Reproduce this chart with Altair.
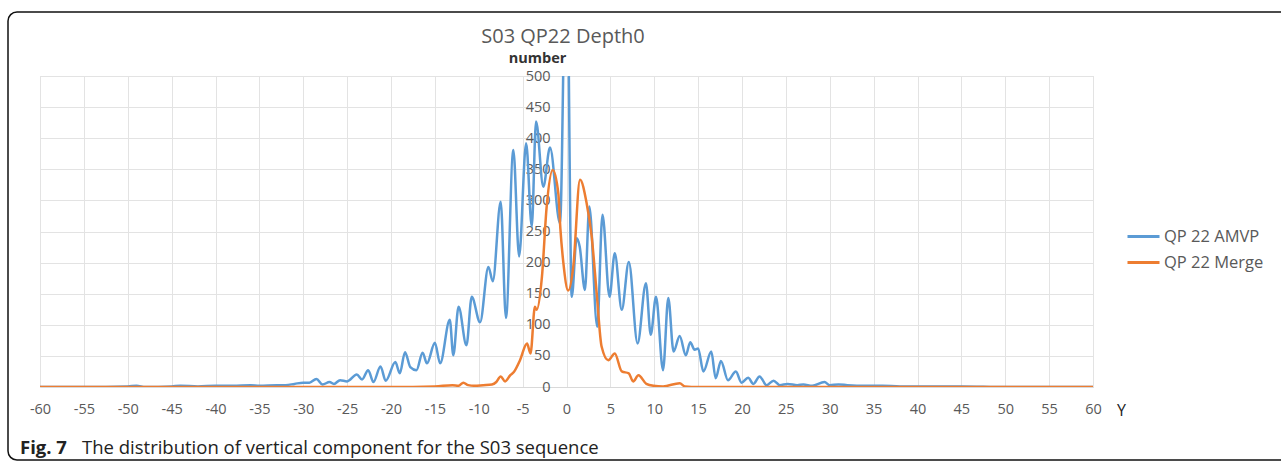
import altair as alt
import pandas as pd

# ---- data ----
amvp_x = [-60, -55, -50, -49, -48, -45, -44, -42, -40, -38, -36, -35, -33, -32, -31, -30,
          -29.3, -28.5, -27.8, -27, -26.5, -25.8, -25, -23.9, -23.3, -22.6, -22, -21.2, -20.6,
          -19.5, -19, -18.4, -17.8, -17.1, -16.4, -15.9, -15.0, -14.4, -13.3, -12.9, -12.3,
          -11.4, -10.8, -9.85, -8.9, -8.4, -7.5, -6.9, -6.06, -5.4, -4.6, -3.96, -3.47, -2.64,
          -1.88, -0.74, 0, 0.6, 1.16, 1.5, 2.1, 2.6, 3.5, 4.1, 4.9, 5.5, 6.3, 7.1, 8.1, 9.05,
          9.6, 10.2, 11.0, 11.6, 12.2, 12.9, 13.6, 14.1, 14.6, 15.0, 15.6, 16.5, 17.0, 17.6,
          18.4, 19.3, 19.95, 20.7, 21.3, 22.0, 22.8, 23.6, 24.3, 25.2, 26.3, 27, 28, 29.4, 30,
          31, 32, 34, 36, 38, 40, 45, 50, 60]
amvp_y = [0, 0, 1, 2, 0, 1, 2, 1, 2, 2, 3, 2, 3, 3, 5, 7,
          7, 13, 4, 8, 5, 11, 9, 20, 12, 27, 8, 33, 10,
          40, 22, 56, 32, 27, 55, 38, 71, 38, 108, 51, 129,
          67, 145, 104, 193, 170, 298, 111, 381, 210, 392, 258, 427, 322,
          385, 263, 760, 145, 239, 226, 156, 290, 97, 277, 145, 215, 124, 201, 70, 167,
          84, 145, 27, 143, 57, 82, 51, 72, 60, 62, 25, 57, 14, 42,
          11, 25, 7, 15, 5, 17, 3, 10, 3, 5, 3, 4, 2, 8, 3,
          4, 3, 2, 2, 1, 1, 1, 0, 0]

merge_x = [-60, -20, -15, -13, -12.3, -11.75, -11.2, -10.5, -9.5, -8.5, -8, -7.5, -7.0, -6.4,
           -6.0, -5.3, -4.5, -4.1, -3.6, -3.4, -2.8, -2.26, -1.57, -0.93, -0.7, -0.36, 0.2,
           0.77, 1.54, 2.3, 2.87, 3.44, 4.0, 4.76, 5.5, 6.3, 7.1, 7.6, 8.2, 9.1, 9.9, 11,
           12.9, 13.5, 15, 60]
merge_y = [0, 0, 1, 3, 2, 7, 3, 2, 3, 4, 8, 17, 9, 19,
           24, 43, 70, 54, 129, 124, 177, 290, 349, 311, 255, 200, 155,
           193, 333, 295, 242, 151, 65, 43, 54, 25, 22, 9, 19, 5, 2, 1,
           6, 1, 0, 0]

series_names = ["QP 22 AMVP", "QP 22 Merge"]
series_colors = ["#5B9BD5", "#ED7D31"]
x_ticks = list(range(-60, 61, 5))
y_ticks = list(range(0, 501, 50))

chart_title = "S03 QP22 Depth0"
caption_bold = "Fig. 7"
caption_rest = "The distribution of vertical component for the S03 sequence"

FONT = "Open Sans"

df_a = pd.DataFrame({"x": amvp_x, "y": amvp_y, "series": series_names[0]})
df_m = pd.DataFrame({"x": merge_x, "y": merge_y, "series": series_names[1]})

color = alt.Color("series:N",
                  scale=alt.Scale(domain=series_names, range=series_colors),
                  legend=alt.Legend(orient="none", legendX=1086, legendY=143, title=None,
                                    symbolType="stroke", symbolSize=1024,
                                    symbolStrokeWidth=2.8, labelFontSize=16.5,
                                    labelColor="#595959", labelFont=FONT,
                                    rowPadding=-3, labelOffset=3))

xenc = alt.X("x:Q", scale=alt.Scale(domain=[-60, 60], nice=False, zero=False),
             axis=alt.Axis(values=x_ticks, labelExpr="toString(datum.value)",
                           title="Y", titleAngle=0, titleX=1081,
                           titleY=23, titleAlign="center", titleBaseline="middle",
                           titleFontSize=16, titleFontWeight="normal",
                           titleColor="#222222", titleFont=FONT,
                           labelFontSize=14.5, labelColor="#595959", labelFont=FONT,
                           labelPadding=15, ticks=False, domainColor="#d9d9d9",
                           gridColor="#e3e3e3", labelFlush=False))
yenc = alt.Y("y:Q", scale=alt.Scale(domain=[0, 500], nice=False),
             axis=alt.Axis(values=y_ticks, title="number", titleAngle=0, titleAlign="center",
                           titleBaseline="middle",
                           titleX=-29.5, titleY=-18, titleFontSize=14.5, titleFontWeight="bold",
                           titleColor="#333333", titleFont=FONT,
                           labelFontSize=14.5, labelColor="#595959", labelFont=FONT,
                           labelPadding=16.5, ticks=False, domain=False,
                           gridColor="#e3e3e3", offset=-526.5))

blue = alt.Chart(df_a).mark_line(interpolate="monotone", strokeWidth=2.5, clip=True).encode(
    x=xenc, y=yenc, color=color)
orange = alt.Chart(df_m).mark_line(interpolate="monotone", strokeWidth=2.5, clip=True).encode(
    x=xenc, y=yenc, color=color)

border = alt.Chart(pd.DataFrame({"k": [0]})).mark_rect(
    fill=None, stroke="#111111", strokeWidth=1.5, cornerRadius=9).encode(
    x=alt.value(-32), x2=alt.value(1300), y=alt.value(-64), y2=alt.value(384))

title_txt = alt.Chart(pd.DataFrame({"t": [chart_title]})).mark_text(
    align="center", baseline="middle", fontSize=20, font=FONT,
    color="#595959").encode(text="t:N", x=alt.value(523), y=alt.value(-39))

cap1 = alt.Chart(pd.DataFrame({"t": [caption_bold]})).mark_text(
    align="left", baseline="middle", fontSize=18.5, fontWeight="bold", font=FONT,
    color="#222222").encode(text="t:N", x=alt.value(-20), y=alt.value(372))
cap2 = alt.Chart(pd.DataFrame({"t": [caption_rest]})).mark_text(
    align="left", baseline="middle", fontSize=18.5, font=FONT,
    color="#222222").encode(text="t:N", x=alt.value(42), y=alt.value(372))

chart = alt.layer(border, blue, orange, title_txt, cap1, cap2).properties(
    width=1053, height=311,
    padding={"left": 40, "top": 76, "right": 188, "bottom": 78},
    autosize="none",
).configure_view(stroke=None).configure(background="white")

chart.save("out.html", embed_options={"renderer": "svg", "actions": False})
